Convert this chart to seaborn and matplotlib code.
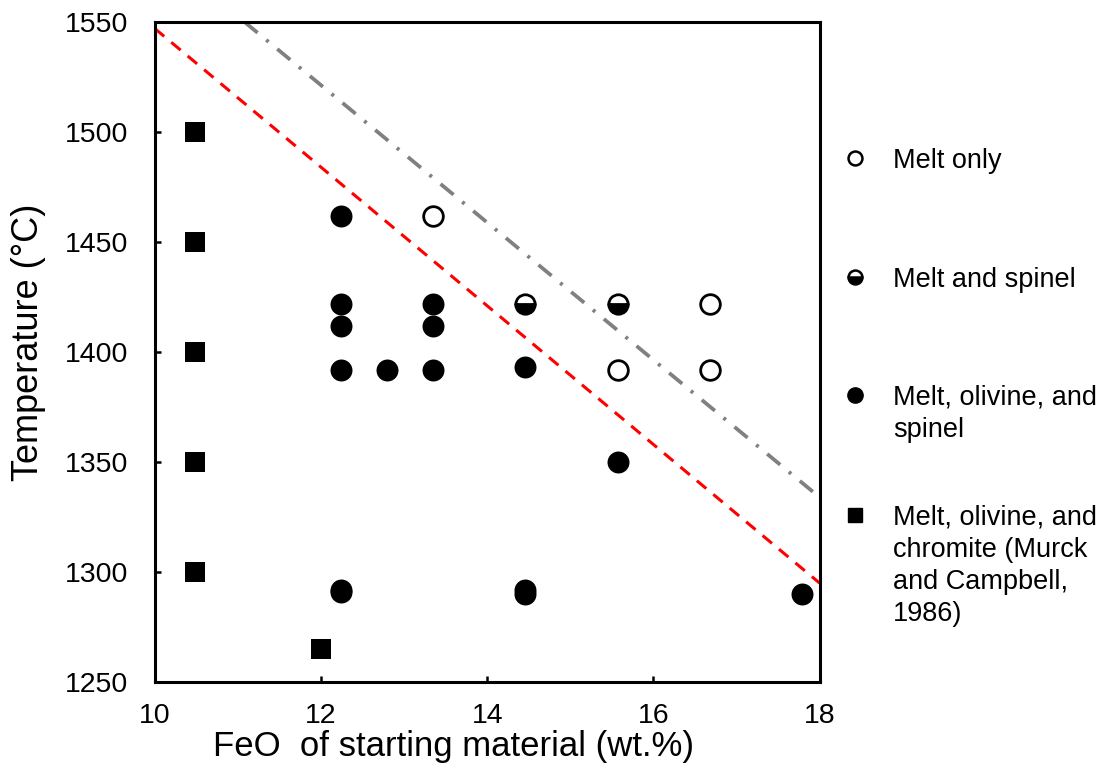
import matplotlib
matplotlib.use("Agg")
import matplotlib.pyplot as plt
from matplotlib.lines import Line2D
import numpy as np
import pandas as pd
import seaborn as sns

sns.set_theme(style="ticks")
plt.rcParams['font.family'] = ['Liberation Sans', 'DejaVu Sans']
plt.rcParams['text.color'] = 'black'
plt.rcParams['axes.labelcolor'] = 'black'

# Melt, olivine and spinel (filled circles)
ol_sp_feo = [12.24, 12.24, 12.24, 12.24, 12.79, 13.35, 13.35, 13.35, 14.45, 15.57, 12.24, 12.24, 14.45, 14.45, 17.79]
ol_sp_t = [1462, 1422, 1412, 1392, 1392, 1422, 1412, 1392, 1393, 1350, 1291, 1292, 1290, 1292, 1290]

# Melt only (open circles)
melt_feo = [13.35, 15.57, 16.68, 16.68]
melt_t = [1462, 1392, 1422, 1392]

# Melt and spinel (half filled)
sp_feo = [14.45, 15.57]
sp_t = [1422, 1422]

# Murck and Campbell 1986 (squares)
chr_feo = [10.48, 10.48, 10.48, 10.48, 10.48, 12.0]
chr_t = [1500, 1450, 1400, 1350, 1300, 1265]

# boundary lines (end points)
red_feo = [10.0, 18.0]
red_t = [1547, 1295]
grey_feo = [11.08, 18.0]
grey_t = [1550, 1334]

labels = ["Melt only", "Melt and spinel", "Melt, olivine, and\nspinel",
          "Melt, olivine, and\nchromite (Murck\nand Campbell,\n1986)"]

fig = plt.figure(figsize=(11.06, 7.8), dpi=100)
ax = fig.add_axes([0.140, 0.1256, 0.601, 0.8462])

ax.plot(red_feo, red_t, color="red", ls=(0, (4, 3)), lw=2.2, zorder=1)
ax.plot(grey_feo, grey_t, color="grey", ls=(0, (4.5, 3, 0.8, 3)), lw=2.7, zorder=1)

df_ol = pd.DataFrame({"feo": ol_sp_feo, "t": ol_sp_t})
df_melt = pd.DataFrame({"feo": melt_feo, "t": melt_t})
df_chr = pd.DataFrame({"feo": chr_feo, "t": chr_t})

sns.scatterplot(data=df_ol, x="feo", y="t", ax=ax, marker="o", s=250,
                color="black", edgecolor="black", linewidth=0, zorder=3)
sns.scatterplot(data=df_melt, x="feo", y="t", ax=ax, marker="o", s=200,
                facecolor="white", edgecolor="black", linewidth=2, zorder=3)
sns.scatterplot(data=df_chr, x="feo", y="t", ax=ax, marker="s", s=210,
                color="black", edgecolor="black", linewidth=0, zorder=3)
ax.plot(sp_feo, sp_t, ls="none", marker="o", ms=14, fillstyle="bottom",
        markerfacecolor="black", markerfacecoloralt="white",
        markeredgecolor="black", markeredgewidth=2, zorder=3)

ax.set_xlim(10, 18)
ax.set_ylim(1250, 1550)
ax.set_xticks([10, 12, 14, 16, 18])
ax.set_yticks([1250, 1300, 1350, 1400, 1450, 1500, 1550])
ax.tick_params(direction="in", length=4.5, width=1.8, labelsize=20.5, colors="black")
ax.tick_params(axis="y", pad=19)
ax.tick_params(axis="x", pad=15)
for s in ax.spines.values():
    s.set_visible(True)
    s.set_linewidth(2.2)
    s.set_color("black")

ax.set_xlabel("FeO  of starting material (wt.%)", fontsize=25)
ax.set_ylabel("Temperature (\u00b0C)", fontsize=26)
ax.xaxis.set_label_coords(0.45, -0.072)
ax.yaxis.set_label_coords(-0.163, 0.515)

# legend, placed by hand so markers line up with first text line
handles = [
    dict(marker="o", markerfacecolor="white", markeredgecolor="black", markersize=10, markeredgewidth=1.8),
    dict(marker="o", fillstyle="bottom", markerfacecolor="black", markerfacecoloralt="white",
         markeredgecolor="black", markersize=10, markeredgewidth=1.8),
    dict(marker="o", markerfacecolor="black", markeredgecolor="black", markersize=11),
    dict(marker="s", markerfacecolor="black", markeredgecolor="black", markersize=10),
]
ys = [158, 277, 395, 515]
for h, lab, yp in zip(handles, labels, ys):
    yf = 1 - yp / 780
    fig.add_artist(Line2D([855 / 1106], [yf], transform=fig.transFigure, ls="none", **h))
    fig.text(893 / 1106, yf + 10 / 780, lab, fontsize=19.5, va="top", ha="left", linespacing=1.3)

fig.savefig("out.png", dpi=100)
